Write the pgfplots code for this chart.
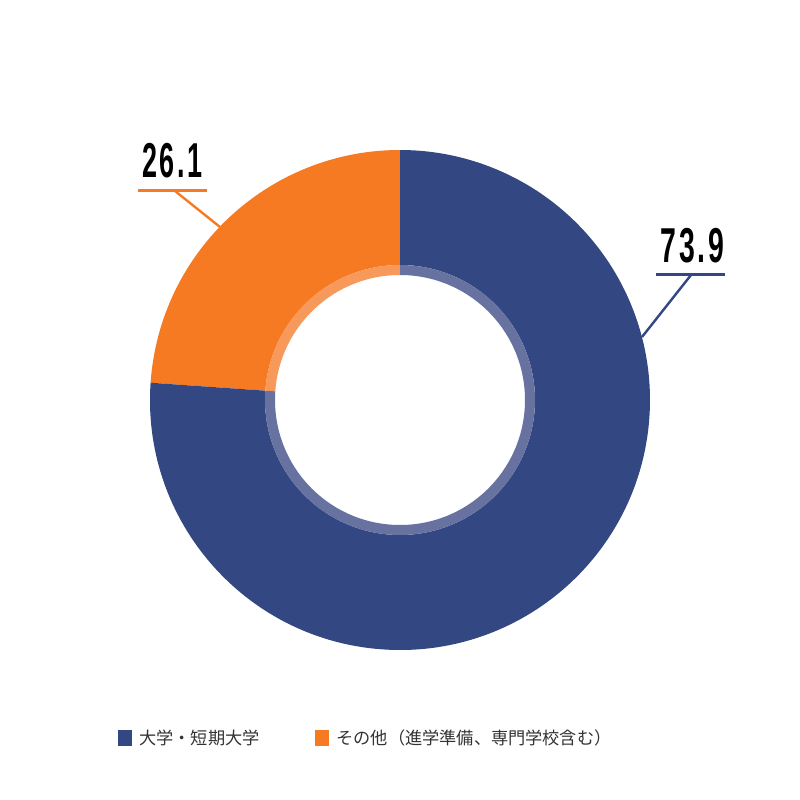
\documentclass[border=0pt]{standalone}
\usepackage{pgfplots}
\pgfplotsset{compat=1.18}
\usepackage{fontspec}
\setmainfont{Liberation Sans}
\newfontfamily\numfont[LetterSpace=10]{Liberation Sans}
\newfontfamily\cjk{Noto Sans CJK JP}
\definecolor{navy}{HTML}{334782}
\definecolor{navylight}{HTML}{6772A0}
\definecolor{orng}{HTML}{F57A21}
\definecolor{ornglight}{HTML}{F7995B}
\definecolor{txtgray}{HTML}{333333}
\begin{document}
\begin{tikzpicture}
% drawn shares (as in the picture) and labelled values
\pgfmathsetmacro{\otherdeg}{3.6*23.9}
\pgfmathsetmacro{\aEnd}{90+\otherdeg}
\pgfmathsetmacro{\bEnd}{450}
\begin{axis}[width=400pt,height=400pt,scale only axis,hide axis,
  xmin=-400,xmax=400,ymin=-400,ymax=400,clip=false]
\addplot[draw=none,mark=none] coordinates {(-400,-400) (400,400)};
% orange sector
\fill[orng] ([shift={(axis cs:0,0)}]90:125pt) arc[start angle=90,end angle=\aEnd,radius=125pt]
  -- ([shift={(axis cs:0,0)}]\aEnd:67.5pt) arc[start angle=\aEnd,end angle=90,radius=67.5pt] -- cycle;
\fill[ornglight] ([shift={(axis cs:0,0)}]90:67.5pt) arc[start angle=90,end angle=\aEnd,radius=67.5pt]
  -- ([shift={(axis cs:0,0)}]\aEnd:62.5pt) arc[start angle=\aEnd,end angle=90,radius=62.5pt] -- cycle;
% navy sector
\fill[navy] ([shift={(axis cs:0,0)}]\aEnd:125pt) arc[start angle=\aEnd,end angle=\bEnd,radius=125pt]
  -- ([shift={(axis cs:0,0)}]\bEnd:67.5pt) arc[start angle=\bEnd,end angle=\aEnd,radius=67.5pt] -- cycle;
\fill[navylight] ([shift={(axis cs:0,0)}]\aEnd:67.5pt) arc[start angle=\aEnd,end angle=\bEnd,radius=67.5pt]
  -- ([shift={(axis cs:0,0)}]\bEnd:62.5pt) arc[start angle=\bEnd,end angle=\aEnd,radius=62.5pt] -- cycle;
% leader lines
\addplot[orng,line width=1.5pt,mark=none] coordinates {(-262,209) (-193,209)};
\addplot[orng,line width=1.2pt,mark=none] coordinates {(-225,209) (-180,173)};
\addplot[navy,line width=1.5pt,mark=none] coordinates {(256,125) (325,125)};
\addplot[navy,line width=1.2pt,mark=none] coordinates {(291,125) (242,63)};
% value labels
\node[inner sep=0,anchor=center] at (axis cs:-227.5,239.5) {\scalebox{0.55}[1]{\fontsize{24.5}{25}\selectfont\numfont\bfseries 26.1}};
\node[inner sep=0,anchor=center] at (axis cs:292.5,154.5) {\scalebox{0.58}[1]{\fontsize{24.5}{25}\selectfont\numfont\bfseries 73.9}};
% legend
\fill[navy] (axis cs:-282,-330) rectangle (axis cs:-268,-346);
\fill[orng] (axis cs:-85,-330) rectangle (axis cs:-71,-346);
\node[anchor=west,inner sep=0,text=txtgray,font=\cjk\fontsize{8.6}{10}\selectfont] at (axis cs:-261,-338) {大学・短期大学};
\node[anchor=west,inner sep=0,text=txtgray,font=\cjk\fontsize{8.6}{10}\selectfont] at (axis cs:-64,-338) {その他（進学準備、専門学校含む）};
\end{axis}
\end{tikzpicture}
\end{document}
